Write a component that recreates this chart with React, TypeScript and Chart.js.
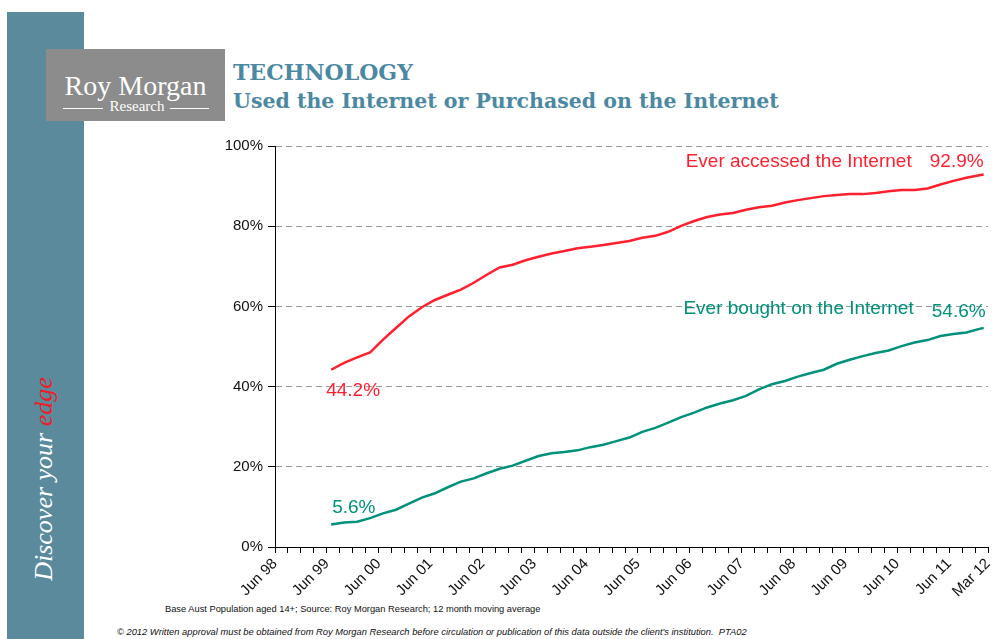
import React, { useEffect, useRef } from "react";
import { Chart, registerables } from "chart.js";

Chart.register(...registerables);

// Month index 0 = Jun 98
const tickLabels = ["Jun 98", "Jun 99", "Jun 00", "Jun 01", "Jun 02", "Jun 03", "Jun 04", "Jun 05", "Jun 06", "Jun 07", "Jun 08", "Jun 09", "Jun 10", "Jun 11", "Mar 12"];
const tickLabelMonths = [0, 12, 24, 36, 48, 60, 72, 84, 96, 108, 120, 132, 144, 156, 165];
const tickMonths = [0, 3, 6, 9, 12, 15, 18, 21, 24, 27, 30, 33, 36, 39, 42, 45, 48, 51, 54, 57, 60, 63, 66, 69, 72, 75, 78, 81, 84, 87, 90, 93, 96, 99, 102, 105, 108, 111, 114, 117, 120, 123, 126, 129, 132, 135, 138, 141, 144, 147, 150, 153, 156, 159, 162, 165];

const months = [13, 16, 19, 22, 25, 28, 31, 34, 37, 40, 43, 46, 49, 52, 55, 58, 61, 64, 67, 70, 73, 76, 79, 82, 85, 88, 91, 94, 97, 100, 103, 106, 109, 112, 115, 118, 121, 124, 127, 130, 133, 136, 139, 142, 145, 148, 151, 154, 157, 160, 163, 164];

const everAccessed = [44.2, 45.9, 47.3, 48.5, 51.7, 54.6, 57.5, 59.8, 61.6, 62.9, 64.2, 65.9, 67.9, 69.7, 70.4, 71.5, 72.4, 73.2, 73.8, 74.5, 74.9, 75.3, 75.8, 76.3, 77.1, 77.6, 78.6, 80.1, 81.3, 82.3, 82.9, 83.3, 84.1, 84.7, 85.1, 85.9, 86.5, 87.0, 87.5, 87.8, 88.0, 88.0, 88.3, 88.7, 89.0, 89.0, 89.4, 90.4, 91.3, 92.1, 92.7, 92.9];

const everBought = [5.6, 6.1, 6.3, 7.2, 8.4, 9.3, 10.8, 12.3, 13.4, 14.9, 16.3, 17.1, 18.4, 19.5, 20.3, 21.5, 22.7, 23.4, 23.7, 24.1, 24.9, 25.5, 26.4, 27.3, 28.7, 29.7, 31.0, 32.4, 33.5, 34.8, 35.8, 36.6, 37.7, 39.3, 40.6, 41.4, 42.5, 43.4, 44.2, 45.7, 46.7, 47.6, 48.4, 49.0, 50.1, 51.0, 51.6, 52.6, 53.1, 53.5, 54.4, 54.6];

const seriesNames = ["Ever accessed the Internet", "Ever bought on the Internet"];
const yTicks = [0, 20, 40, 60, 80, 100];

const RED = "#ff1f2f";
const TEAL = "#00917b";
const FONT = '"Liberation Sans", Arial, sans-serif';

const fmt = (v: number) => v.toFixed(1) + "%";

const labelPlugin = {
  id: "seriesLabels",
  afterDatasetsDraw(chart: any) {
    const { ctx, scales } = chart;
    const x = scales.x;
    const y = scales.y;
    const n = months.length - 1;
    ctx.save();
    ctx.font = "19px " + FONT;
    ctx.textBaseline = "middle";

    // Ever accessed
    const ax0 = x.getPixelForValue(months[0]);
    const ay0 = y.getPixelForValue(everAccessed[0]);
    const axn = x.getPixelForValue(months[n]);
    const ayn = y.getPixelForValue(everAccessed[n]);
    ctx.fillStyle = RED;
    ctx.textAlign = "left";
    ctx.fillText(fmt(everAccessed[0]), ax0 - 5, ay0 + 21);
    ctx.textAlign = "right";
    ctx.fillText(fmt(everAccessed[n]), axn, ayn - 13);
    ctx.fillText(seriesNames[0], axn - 72, ayn - 13);

    // Ever bought
    const bx0 = x.getPixelForValue(months[0]);
    const by0 = y.getPixelForValue(everBought[0]);
    const bxn = x.getPixelForValue(months[n]);
    const byn = y.getPixelForValue(everBought[n]);
    ctx.fillStyle = TEAL;
    ctx.textAlign = "left";
    ctx.fillText(fmt(everBought[0]), bx0 + 1, by0 - 17);
    ctx.textAlign = "right";
    ctx.fillText(fmt(everBought[n]), bxn + 2, byn - 16);
    ctx.fillText(seriesNames[1], bxn - 70, byn - 19);
    ctx.restore();
  },
};

export default function App() {
  const canvasRef = useRef<HTMLCanvasElement | null>(null);

  useEffect(() => {
    if (!canvasRef.current) return;
    const chart = new Chart(canvasRef.current, {
      type: "line",
      data: {
        datasets: [
          {
            label: seriesNames[0],
            data: months.map((m, i) => ({ x: m, y: everAccessed[i] })),
            borderColor: RED,
            borderWidth: 2.5,
            pointRadius: 0,
            tension: 0,
            fill: false,
          },
          {
            label: seriesNames[1],
            data: months.map((m, i) => ({ x: m, y: everBought[i] })),
            borderColor: TEAL,
            borderWidth: 2.5,
            pointRadius: 0,
            tension: 0,
            fill: false,
          },
        ],
      },
      options: {
        animation: false,
        responsive: false,
        events: [],
        layout: { padding: { left: 0, top: 146, right: 5, bottom: 0 } },
        plugins: {
          legend: { display: false },
          tooltip: { enabled: false },
          title: { display: false },
        },
        scales: {
          x: {
            type: "linear",
            min: 0,
            max: 165,
            afterBuildTicks: (scale: any) => {
              scale.ticks = tickMonths.map((v) => ({ value: v }));
            },
            afterFit: (scale: any) => {
              scale.height = 92;
              scale.paddingLeft = 0;
              scale.paddingRight = 0;
            },
            grid: {
              display: true,
              drawOnChartArea: false,
              drawTicks: true,
              tickLength: 6,
              tickColor: "#000",
              tickWidth: 1,
            },
            border: { display: true, color: "#000", width: 1 },
            ticks: {
              autoSkip: false,
              maxRotation: 45,
              minRotation: 45,
              padding: 2,
              color: "#111",
              font: { family: FONT, size: 15 },
              callback: (v: any) => {
                const i = tickLabelMonths.indexOf(Number(v));
                return i >= 0 ? tickLabels[i] : "";
              },
            },
          },
          y: {
            type: "linear",
            min: 0,
            max: 100,
            afterBuildTicks: (scale: any) => {
              scale.ticks = yTicks.map((v) => ({ value: v }));
            },
            afterFit: (scale: any) => {
              scale.width = 275;
              scale.paddingTop = 0;
              scale.paddingBottom = 0;
            },
            grid: {
              display: true,
              drawOnChartArea: true,
              drawTicks: true,
              tickLength: 7,
              tickColor: "#000",
              tickWidth: 1,
              lineWidth: 1,
              color: (c: any) => (c.tick && c.tick.value === 0 ? "rgba(0,0,0,0)" : "#9a9a9a"),
            },
            border: { display: true, color: "#000", width: 1, dash: [6, 4] },
            ticks: {
              padding: 5,
              color: "#111",
              font: { family: FONT, size: 15 },
              callback: (v: any) => v + "%",
            },
          },
        },
      },
      plugins: [labelPlugin],
    });
    return () => chart.destroy();
  }, []);

  return (
    <div
      style={{
        position: "absolute",
        left: 0,
        top: 0,
        width: 993,
        height: 639,
        overflow: "hidden",
        background: "#fff",
      }}
    >
      {/* side bar */}
      <div style={{ position: "absolute", left: 7, top: 12, width: 77, height: 627, background: "#5a8a9c" }} />
      <div
        style={{
          position: "absolute",
          left: 44,
          top: 479,
          transform: "translate(-50%, -50%) rotate(-90deg)",
          whiteSpace: "nowrap",
          fontFamily: '"Liberation Serif", "Times New Roman", serif',
          fontStyle: "italic",
          fontSize: 26,
          lineHeight: "26px",
          color: "#fff",
        }}
      >
        Discover your <span style={{ color: "#e8202a" }}>edge</span>
      </div>
      {/* logo */}
      <div style={{ position: "absolute", left: 46, top: 49, width: 179, height: 72, background: "#8c8c8c" }} />
      <div
        style={{
          position: "absolute",
          left: 46,
          top: 72,
          width: 179,
          textAlign: "center",
          fontFamily: '"Liberation Serif", "Times New Roman", serif',
          fontSize: 28,
          lineHeight: "28px",
          color: "#fff",
          whiteSpace: "nowrap",
        }}
      >
        Roy Morgan
      </div>
      <div
        style={{
          position: "absolute",
          left: 46,
          top: 99,
          width: 182,
          textAlign: "center",
          fontFamily: '"Liberation Serif", "Times New Roman", serif',
          fontSize: 15,
          lineHeight: "15px",
          color: "#fff",
          whiteSpace: "nowrap",
        }}
      >
        Research
      </div>
      <div style={{ position: "absolute", left: 63, top: 108, width: 40, height: 1, background: "#fff" }} />
      <div style={{ position: "absolute", left: 170, top: 108, width: 39, height: 1, background: "#fff" }} />
      {/* titles */}
      <div
        style={{
          position: "absolute",
          left: 233,
          top: 59,
          fontFamily: '"DejaVu Serif", serif',
          fontWeight: "bold",
          fontSize: 22,
          lineHeight: "26px",
          color: "#4b88a2",
          whiteSpace: "nowrap",
        }}
      >
        TECHNOLOGY
      </div>
      <div
        style={{
          position: "absolute",
          left: 233,
          top: 88,
          fontFamily: '"DejaVu Serif", serif',
          fontWeight: "bold",
          fontSize: 20.5,
          lineHeight: "26px",
          color: "#4b88a2",
          whiteSpace: "nowrap",
        }}
      >
        Used the Internet or Purchased on the Internet
      </div>
      {/* footers */}
      <div
        style={{
          position: "absolute",
          left: 165,
          top: 603,
          fontFamily: FONT,
          fontSize: 9.3,
          lineHeight: "12px",
          color: "#111",
          whiteSpace: "nowrap",
        }}
      >
        Base Aust Population aged 14+; Source: Roy Morgan Research; 12 month moving average
      </div>
      <div
        style={{
          position: "absolute",
          left: 117,
          top: 626,
          fontFamily: FONT,
          fontStyle: "italic",
          fontSize: 9.35,
          lineHeight: "12px",
          color: "#111",
          whiteSpace: "nowrap",
        }}
      >
        © 2012 Written approval must be obtained from Roy Morgan Research before circulation or publication of this data outside the client's institution.&nbsp;&nbsp;PTA02
      </div>
      <canvas
        ref={canvasRef}
        width={993}
        height={639}
        style={{ position: "absolute", left: 0, top: 0, width: 993, height: 639 }}
      />
    </div>
  );
}
